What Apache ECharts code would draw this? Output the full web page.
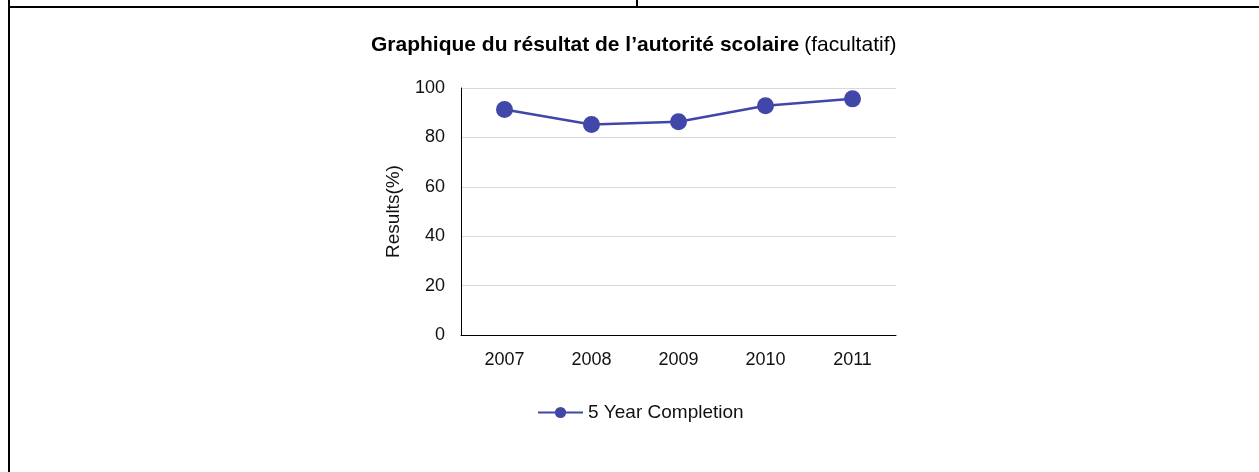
<!DOCTYPE html>
<html>
<head>
<meta charset="utf-8">
<script src="https://cdn.jsdelivr.net/npm/echarts@6/dist/echarts.min.js"></script>
<style>
  html, body { margin: 0; padding: 0; background: #fff; }
  #chart { width: 1259px; height: 472px; }
</style>
</head>
<body>
<div id="chart"></div>
<script>
const years = ["2007", "2008", "2009", "2010", "2011"];
const completion = [91.3, 85.2, 86.3, 92.8, 95.6];
const seriesName = "5 Year Completion";
const yTicks = { min: 0, max: 100, interval: 20 };

const chart = echarts.init(document.getElementById("chart"));
const font = "Liberation Sans, Arial, sans-serif";

chart.setOption({
  backgroundColor: "#fff",
  animation: false,
  textStyle: { fontFamily: font },
  title: {
    text: "{b|Graphique du résultat de l’autorité scolaire} {n|(facultatif)}",
    left: 366,
    top: 30,
    textStyle: {
      rich: {
        b: { fontFamily: font, fontWeight: "bold", fontSize: 21, color: "#000" },
        n: { fontFamily: font, fontWeight: "normal", fontSize: 21, color: "#000" },
      },
    },
  },
  legend: {
    left: 532,
    top: 398,
    itemWidth: 45,
    itemHeight: 14,
    itemGap: 10,
    textStyle: { fontFamily: font, fontSize: 19, color: "#111" },
    data: [seriesName],
  },
  grid: { left: 461, right: 363, top: 88, bottom: 137 },
  xAxis: {
    type: "category",
    data: years,
    boundaryGap: true,
    axisLine: { lineStyle: { color: "#000", width: 1 } },
    axisTick: { show: false },
    axisLabel: { color: "#111", fontSize: 18, margin: 16 },
  },
  yAxis: {
    type: "value",
    min: yTicks.min,
    max: yTicks.max,
    interval: yTicks.interval,
    name: "Results(%)",
    nameLocation: "middle",
    nameGap: 58,
    nameTextStyle: { color: "#111", fontSize: 19 },
    axisLine: { show: true, lineStyle: { color: "#000", width: 1 } },
    axisTick: { show: false },
    axisLabel: { color: "#111", fontSize: 18, margin: 16 },
    splitLine: { lineStyle: { color: "#d9d9d9" } },
  },
  series: [
    {
      name: seriesName,
      type: "line",
      data: completion,
      symbol: "circle",
      symbolSize: 17,
      lineStyle: { width: 2.5, color: "#4047a9" },
      itemStyle: { color: "#4047a9" },
    },
  ],
  graphic: [
    { type: "rect", shape: { x: 8, y: 0, width: 2, height: 472 }, style: { fill: "#000" } },
    { type: "rect", shape: { x: 8, y: 6, width: 1251, height: 2 }, style: { fill: "#000" } },
    { type: "rect", shape: { x: 636, y: 0, width: 2, height: 7 }, style: { fill: "#000" } },
  ],
});
</script>
</body>
</html>
